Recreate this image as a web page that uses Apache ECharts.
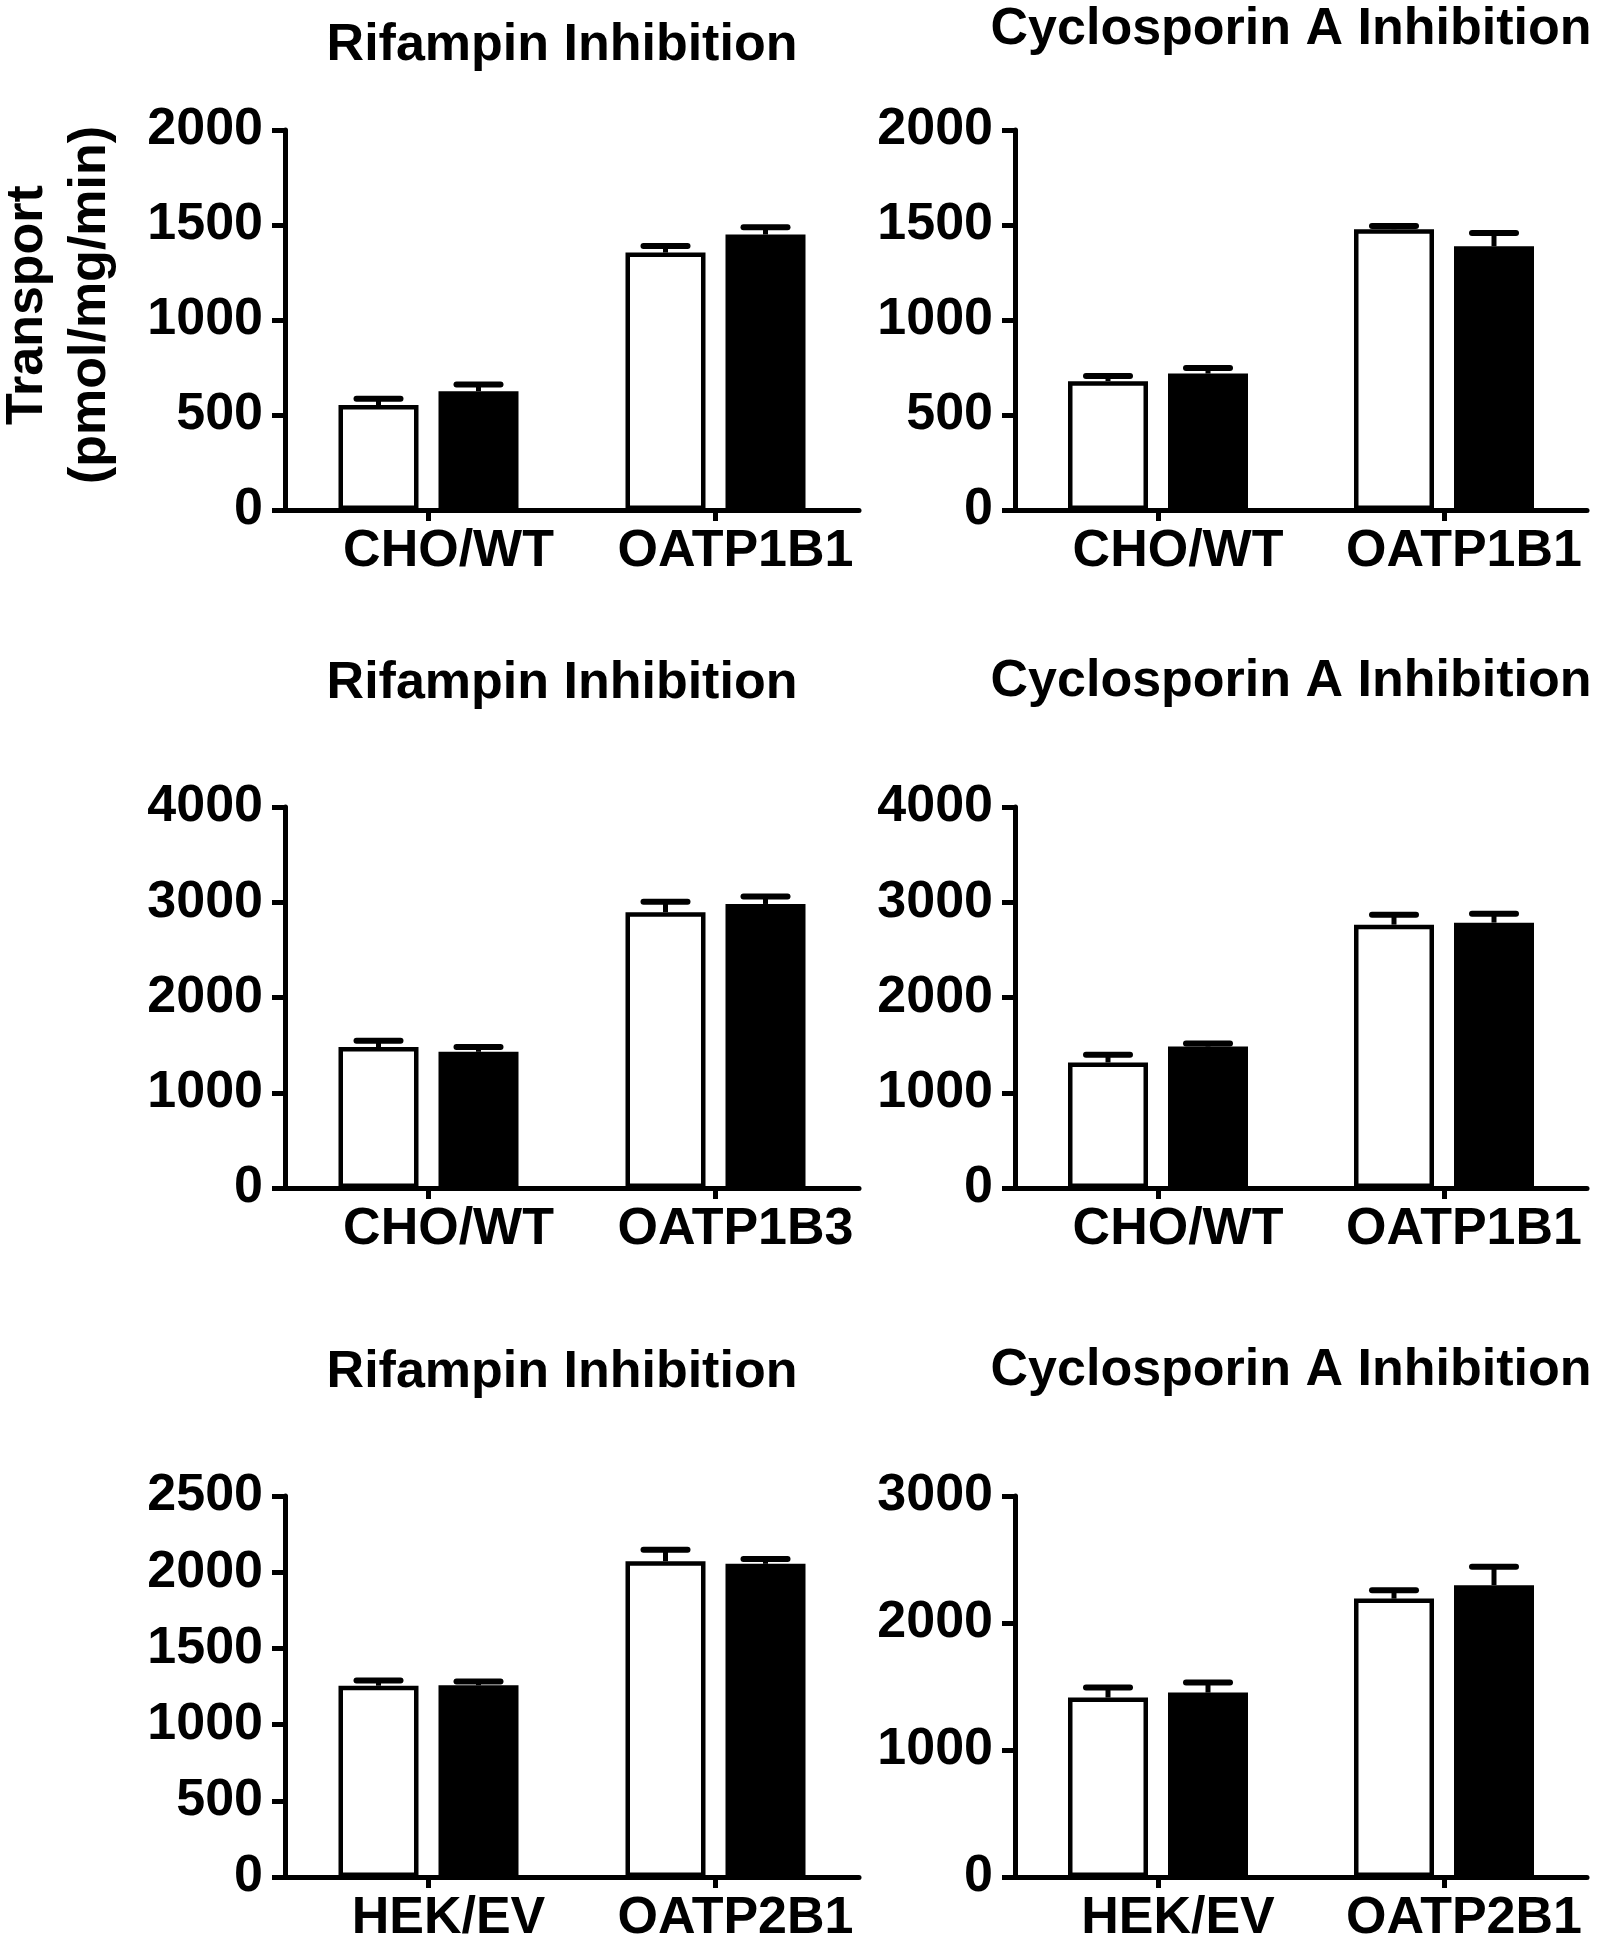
<!DOCTYPE html>
<html>
<head>
<meta charset="utf-8">
<title>Rifampin / Cyclosporin A Inhibition</title>
<script src="https://cdn.jsdelivr.net/npm/echarts@6/dist/echarts.min.js"></script>
<style>
  html, body { margin: 0; padding: 0; background: #ffffff; }
  #chart { width: 1598px; height: 1950px; }
</style>
</head>
<body>
<div id="chart"></div>
<script>
// ---------------- DATA ----------------
const catsCHO1B1 = ['CHO/WT', 'OATP1B1'];
const catsCHO1B3 = ['CHO/WT', 'OATP1B3'];
const catsHEK2B1 = ['HEK/EV', 'OATP2B1'];

const titleRif = 'Rifampin Inhibition';
const titleCsa = 'Cyclosporin A Inhibition';
const yAxisTitle = ['Transport', '(pmol/mg/min)'];

// Panel 1: Rifampin, CHO/WT vs OATP1B1
const p1Open = [552, 1355];
const p1OpenErr = [33, 35];
const p1Solid = [625, 1450];
const p1SolidErr = [35, 38];
const p1Ticks = [0, 2000, 500];

// Panel 2: Cyclosporin A, CHO/WT vs OATP1B1
const p2Open = [678, 1478];
const p2OpenErr = [27, 17];
const p2Solid = [718, 1388];
const p2SolidErr = [30, 70];
const p2Ticks = [0, 2000, 500];

// Panel 3: Rifampin, CHO/WT vs OATP1B3
const p3Open = [1480, 2895];
const p3OpenErr = [65, 110];
const p3Solid = [1430, 2982];
const p3SolidErr = [50, 78];
const p3Ticks = [0, 4000, 1000];

// Panel 4: Cyclosporin A, CHO/WT vs OATP1B1
const p4Open = [1318, 2765];
const p4OpenErr = [80, 105];
const p4Solid = [1485, 2786];
const p4SolidErr = [32, 92];
const p4Ticks = [0, 4000, 1000];

// Panel 5: Rifampin, HEK/EV vs OATP2B1
const p5Open = [1255, 2072];
const p5OpenErr = [35, 75];
const p5Solid = [1258, 2055];
const p5SolidErr = [25, 32];
const p5Ticks = [0, 2500, 500];

// Panel 6: Cyclosporin A, HEK/EV vs OATP2B1
const p6Open = [1413, 2192];
const p6OpenErr = [80, 65];
const p6Solid = [1452, 2298];
const p6SolidErr = [80, 145];
const p6Ticks = [0, 3000, 1000];

// ---------------- LAYOUT / STYLE ----------------
const FONT = "'Liberation Sans', Arial, Helvetica, sans-serif";
const BAR_W = 80;
const BAR_GAP = 0.25;
const BAR_OFF = (BAR_W + BAR_W * BAR_GAP) / 2;

const panels = [
  { title: titleRif, cats: catsCHO1B1, open: p1Open, openErr: p1OpenErr, solid: p1Solid, solidErr: p1SolidErr, ticks: p1Ticks,
    grid: { left: 285, top: 130, width: 574, height: 380 }, titleY: 46 },
  { title: titleCsa, cats: catsCHO1B1, open: p2Open, openErr: p2OpenErr, solid: p2Solid, solidErr: p2SolidErr, ticks: p2Ticks,
    grid: { left: 1015, top: 130, width: 572, height: 380 }, titleY: 30 },
  { title: titleRif, cats: catsCHO1B3, open: p3Open, openErr: p3OpenErr, solid: p3Solid, solidErr: p3SolidErr, ticks: p3Ticks,
    grid: { left: 285, top: 807, width: 574, height: 381 }, titleY: 684 },
  { title: titleCsa, cats: catsCHO1B1, open: p4Open, openErr: p4OpenErr, solid: p4Solid, solidErr: p4SolidErr, ticks: p4Ticks,
    grid: { left: 1015, top: 807, width: 572, height: 381 }, titleY: 682 },
  { title: titleRif, cats: catsHEK2B1, open: p5Open, openErr: p5OpenErr, solid: p5Solid, solidErr: p5SolidErr, ticks: p5Ticks,
    grid: { left: 285, top: 1496, width: 574, height: 381 }, titleY: 1373 },
  { title: titleCsa, cats: catsHEK2B1, open: p6Open, openErr: p6OpenErr, solid: p6Solid, solidErr: p6SolidErr, ticks: p6Ticks,
    grid: { left: 1015, top: 1496, width: 572, height: 381 }, titleY: 1371 }
];

const grids = [], xAxes = [], yAxes = [], series = [], graphics = [];

function errRenderer(offset) {
  return function (params, api) {
    const cat = api.value(0);
    const mean = api.value(1);
    const err = api.value(2);
    const base = api.coord([cat, mean]);
    const top = api.coord([cat, mean + err]);
    const x = base[0] + offset;
    return {
      type: 'group',
      children: [
        { type: 'line', shape: { x1: x, y1: base[1], x2: x, y2: top[1] },
          style: { stroke: '#000', lineWidth: 5 } },
        { type: 'line', shape: { x1: x - 22, y1: top[1], x2: x + 22, y2: top[1] },
          style: { stroke: '#000', lineWidth: 6, lineCap: 'round' } }
      ]
    };
  };
}

panels.forEach((p, i) => {
  grids.push(Object.assign({ containLabel: false }, p.grid));
  xAxes.push({
    type: 'category', gridIndex: i, data: p.cats, boundaryGap: true,
    axisLine: { show: true, lineStyle: { color: '#000', width: 5 } },
    axisTick: { show: true, alignWithLabel: true, interval: 0, length: 11, lineStyle: { color: '#000', width: 5 } },
    axisLabel: { color: '#000', fontSize: 52, fontWeight: 'bold', fontFamily: FONT, margin: 16,
                 interval: 0, hideOverlap: false, padding: [0, 0, 0, 40] },
    splitLine: { show: false }
  });
  yAxes.push({
    type: 'value', gridIndex: i, min: p.ticks[0], max: p.ticks[1], interval: p.ticks[2],
    axisLine: { show: true, lineStyle: { color: '#000', width: 5 } },
    axisTick: { show: true, inside: false, length: 13, lineStyle: { color: '#000', width: 5 } },
    axisLabel: { color: '#000', fontSize: 52, fontWeight: 'bold', fontFamily: FONT, margin: 22,
                 formatter: (v) => String(v) },
    splitLine: { show: false }
  });
  series.push({
    type: 'bar', xAxisIndex: i, yAxisIndex: i, data: p.open,
    barWidth: BAR_W, barGap: (BAR_GAP * 100) + '%',
    itemStyle: { color: '#ffffff', borderColor: '#000', borderWidth: 4.5 },
    emphasis: { disabled: true }
  });
  series.push({
    type: 'bar', xAxisIndex: i, yAxisIndex: i, data: p.solid,
    barWidth: BAR_W, barGap: (BAR_GAP * 100) + '%',
    itemStyle: { color: '#000000', borderColor: '#000', borderWidth: 4.5 },
    emphasis: { disabled: true }
  });
  series.push({
    type: 'custom', xAxisIndex: i, yAxisIndex: i, z: 5,
    data: p.open.map((v, k) => [k, v, p.openErr[k]]),
    encode: { x: 0, y: 1 },
    renderItem: errRenderer(-BAR_OFF)
  });
  series.push({
    type: 'custom', xAxisIndex: i, yAxisIndex: i, z: 5,
    data: p.solid.map((v, k) => [k, v, p.solidErr[k]]),
    encode: { x: 0, y: 1 },
    renderItem: errRenderer(BAR_OFF)
  });
  graphics.push({
    type: 'text', x: p.grid.left + p.grid.width / 2 - 10, y: p.titleY,
    style: { text: p.title, fill: '#000', font: 'bold 52px ' + FONT, textAlign: 'center', textVerticalAlign: 'middle' }
  });
});

// Y axis title (shared, left of top-left panel)
graphics.push({
  type: 'text', x: 28, y: 305, rotation: Math.PI / 2,
  style: { text: yAxisTitle[0], fill: '#000', font: 'bold 52px ' + FONT, textAlign: 'center', textVerticalAlign: 'middle' }
});
graphics.push({
  type: 'text', x: 91, y: 305, rotation: Math.PI / 2,
  style: { text: yAxisTitle[1], fill: '#000', font: 'bold 52px ' + FONT, textAlign: 'center', textVerticalAlign: 'middle' }
});

const chart = echarts.init(document.getElementById('chart'), null, { renderer: 'canvas' });
chart.setOption({
  backgroundColor: '#ffffff',
  animation: false,
  grid: grids,
  xAxis: xAxes,
  yAxis: yAxes,
  series: series,
  graphic: graphics
});
</script>
</body>
</html>
